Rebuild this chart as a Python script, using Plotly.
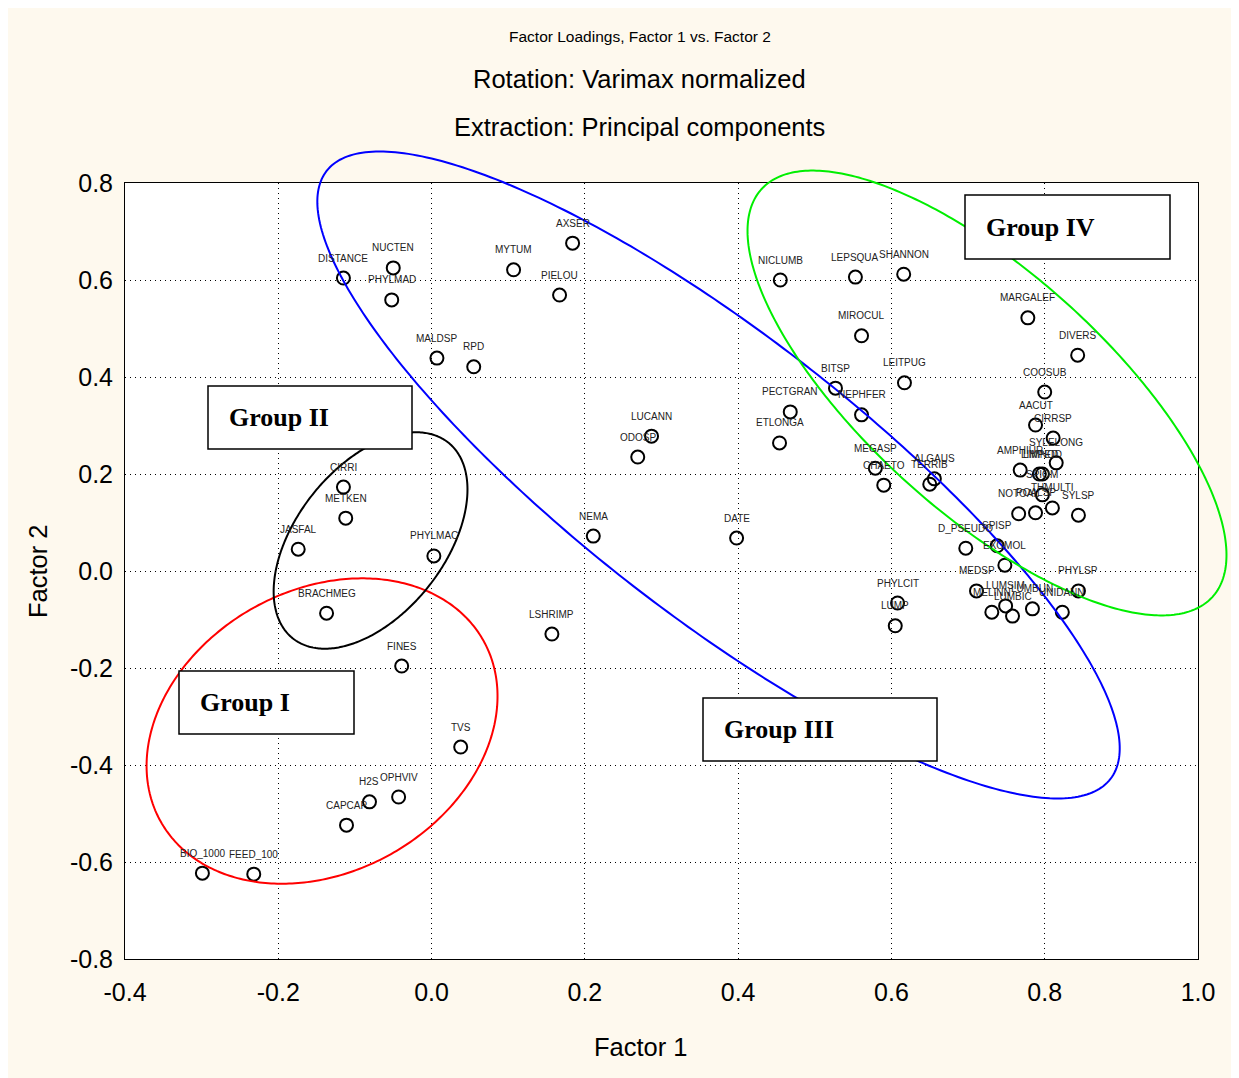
import numpy as np
import plotly.graph_objects as go

# ---------------- data ----------------
labels = ["DISTANCE", "NUCTEN", "PHYLMAD", "MALDSP", "RPD", "MYTUM", "AXSER", "PIELOU",
          "LUCANN", "ODOSP", "NEMA", "DATE", "LSHRIMP", "CIRRI", "METKEN", "JASFAL",
          "PHYLMAC", "BRACHMEG", "FINES", "TVS", "H2S", "OPHVIV", "CAPCAP", "BIO_1000",
          "FEED_100", "NICLUMB", "LEPSQUA", "SHANNON", "MIROCUL", "LEITPUG", "BITSP",
          "NEPHFER", "PECTGRAN", "ETLONGA", "MEGASP", "CHAETO", "TERRIB", "ALGAUS",
          "D_PSEUDO", "SPISP", "EXOMOL", "MEDSP", "PHYLSP", "MELINN", "LUMSIM", "LUMBIC",
          "LUMBUN", "UNIDANN", "PHYLCIT", "LUMP", "MARGALEF", "DIVERS", "COOSUB", "AACUT",
          "CIRRSP", "SYLELONG", "AMPHIUR", "LIMPED", "LIMNOD", "SPIOM", "THMULTI",
          "NOTOAL", "POALSP", "SYLSP"]
factor1 = [-0.115, -0.050, -0.052, 0.007, 0.055, 0.107, 0.184, 0.167,
           0.287, 0.269, 0.211, 0.398, 0.157, -0.115, -0.112, -0.174,
           0.003, -0.137, -0.039, 0.038, -0.081, -0.043, -0.111, -0.299,
           -0.232, 0.455, 0.553, 0.616, 0.561, 0.617, 0.527,
           0.561, 0.468, 0.454, 0.579, 0.590, 0.650, 0.656,
           0.697, 0.738, 0.748, 0.711, 0.844, 0.731, 0.749, 0.758,
           0.784, 0.823, 0.608, 0.605, 0.778, 0.843, 0.800, 0.788,
           0.811, 0.815, 0.768, 0.793, 0.797, 0.797, 0.810,
           0.766, 0.788, 0.844]
factor2 = [0.604, 0.625, 0.559, 0.439, 0.421, 0.621, 0.676, 0.569,
           0.278, 0.235, 0.072, 0.068, -0.130, 0.173, 0.109, 0.045,
           0.031, -0.087, -0.196, -0.363, -0.476, -0.466, -0.524, -0.623,
           -0.625, 0.600, 0.606, 0.612, 0.485, 0.388, 0.377,
           0.322, 0.328, 0.264, 0.212, 0.177, 0.179, 0.190,
           0.047, 0.052, 0.012, -0.041, -0.041, -0.085, -0.072, -0.093,
           -0.078, -0.085, -0.066, -0.113, 0.522, 0.445, 0.369, 0.301,
           0.274, 0.223, 0.208, 0.200, 0.200, 0.157, 0.130,
           0.118, 0.120, 0.115]

x_ticks = [-0.4, -0.2, 0.0, 0.2, 0.4, 0.6, 0.8, 1.0]
x_ticktext = ["-0.4", "-0.2", "0.0", "0.2", "0.4", "0.6", "0.8", "1.0"]
y_ticks = [-0.8, -0.6, -0.4, -0.2, 0.0, 0.2, 0.4, 0.6, 0.8]
y_ticktext = ["-0.8", "-0.6", "-0.4", "-0.2", "0.0", "0.2", "0.4", "0.6", "0.8"]

group_names = ["Group I", "Group II", "Group III", "Group IV"]

# ---------------- layout geometry ----------------
OFF = 8                      # page body margin
W, H = 1239 - OFF, 1078 - OFF
ML, MT = 125 - OFF, 183 - OFF
MR = W - (1198 - OFF)
MB = H - (959 - OFF)
XR = [-0.4, 1.0]
YR = [-0.8, 0.8]
pw = W - ML - MR
ph = H - MT - MB
sx = pw / (XR[1] - XR[0])   # px per data unit
sy = ph / (YR[1] - YR[0])

SANS = "Liberation Sans, Arial, sans-serif"
SERIF = "Liberation Serif, Times New Roman, serif"

fig = go.Figure()
fig.add_trace(go.Scatter(
    x=factor1, y=factor2, mode="markers",
    marker=dict(symbol="circle-open", size=13, color="black", line=dict(width=2, color="black")),
    hoverinfo="text", text=labels, showlegend=False))

annotations = []
for lab, xv, yv in zip(labels, factor1, factor2):
    annotations.append(dict(x=xv, y=yv, xref="x", yref="y", text=lab, showarrow=False,
                            yshift=20, font=dict(family=SANS, size=10, color="#222222")))

def d2px(xv):   # data x -> paper fraction
    return (xv - XR[0]) / (XR[1] - XR[0])

def d2py(yv):
    return (yv - YR[0]) / (YR[1] - YR[0])

# ellipses (center in data units, semi-axes in px, visual tilt in degrees)
ellipses = [
    dict(c=(0.3744, 0.198), a=496, b=140, ang=-37.8, color="#0000ff"),
    dict(c=(0.7247, 0.367), a=304, b=120, ang=-42.1, color="#00ee00"),
    dict(c=(-0.1429, -0.330), a=185, b=141, ang=29.3, color="#ff0000"),
    dict(c=(-0.0796, 0.0629), a=125, b=74, ang=51.6, color="#000000"),
]
shapes = []
t = np.linspace(0, 2 * np.pi, 361)
for e in ellipses:
    th = np.deg2rad(e["ang"])
    dx = e["a"] * np.cos(th) * np.cos(t) - e["b"] * np.sin(th) * np.sin(t)
    dy = e["a"] * np.sin(th) * np.cos(t) + e["b"] * np.cos(th) * np.sin(t)
    xs = d2px(e["c"][0] + dx / sx)
    ys = d2py(e["c"][1] + dy / sy)
    path = "M " + " L ".join(f"{a:.5f},{b:.5f}" for a, b in zip(xs, ys)) + " Z"
    shapes.append(dict(type="path", path=path, xref="paper", yref="paper",
                       line=dict(color=e["color"], width=2)))

# group label boxes (reference pixel positions converted to data)
def px2x(p):
    return XR[0] + (p - OFF - ML) / sx

def py2y(p):
    return YR[1] - (p - OFF - MT) / sy

boxes = [(179, 354, 671, 734), (208, 412, 386, 449), (703, 937, 698, 761), (965, 1170, 195, 259)]
for name, (x0, x1, y0, y1) in zip(group_names, boxes):
    shapes.append(dict(type="rect", xref="x", yref="y",
                       x0=px2x(x0), x1=px2x(x1), y0=py2y(y0), y1=py2y(y1),
                       fillcolor="white", line=dict(color="black", width=1.5)))
    annotations.append(dict(x=px2x(x0), y=py2y((y0 + y1) / 2), xref="x", yref="y",
                            text="<b>" + name + "</b>", showarrow=False,
                            xanchor="left", yanchor="middle", xshift=19,
                            font=dict(family=SERIF, size=26, color="black")))

def pyp(p):
    return (H - MB - (p - OFF)) / ph

def pxp(p):
    return (p - OFF - ML) / pw

annotations += [
    dict(x=pxp(640), y=pyp(36), xref="paper", yref="paper", showarrow=False,
         text="Factor Loadings, Factor 1 vs. Factor 2", yanchor="middle",
         font=dict(family=SANS, size=15.5, color="black")),
    dict(x=pxp(639), y=pyp(79), xref="paper", yref="paper", showarrow=False,
         text="Rotation: Varimax normalized", yanchor="middle",
         font=dict(family=SANS, size=25.5, color="black")),
    dict(x=pxp(639), y=pyp(127), xref="paper", yref="paper", showarrow=False,
         text="Extraction: Principal components", yanchor="middle",
         font=dict(family=SANS, size=25.5, color="black")),
    dict(x=pxp(641), y=pyp(1047), xref="paper", yref="paper", showarrow=False,
         text="Factor 1", yanchor="middle",
         font=dict(family=SANS, size=25.5, color="black")),
    dict(x=pxp(38), y=pyp(571), xref="paper", yref="paper", showarrow=False,
         text="Factor 2", textangle=-90, xanchor="center", yanchor="middle",
         font=dict(family=SANS, size=25.5, color="black")),
]

axis_common = dict(showgrid=True, gridcolor="black", griddash="1px,4px", gridwidth=1,
                   zeroline=False, showline=True, linecolor="black", linewidth=1,
                   mirror=True, ticks="", tickfont=dict(family=SANS, size=25, color="black"))

fig.update_layout(
    width=W, height=H,
    margin=dict(l=ML, r=MR, t=MT, b=MB),
    paper_bgcolor="#fef9ee", plot_bgcolor="white",
    xaxis=dict(range=XR, tickvals=x_ticks, ticktext=x_ticktext, ticklabelstandoff=11, **axis_common),
    yaxis=dict(range=YR, tickvals=y_ticks, ticktext=y_ticktext, ticklabelstandoff=6, **axis_common),
    shapes=shapes, annotations=annotations, showlegend=False,
)

fig.write_html("out.html")
